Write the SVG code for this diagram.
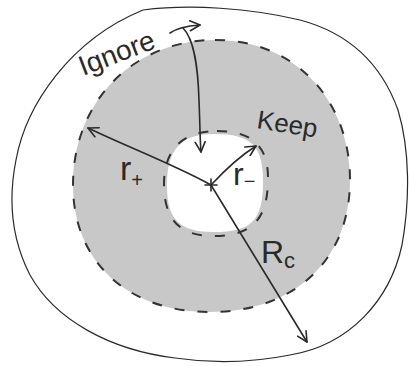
<svg xmlns="http://www.w3.org/2000/svg" width="409" height="366" viewBox="0 0 409 366">
  <style>
    .ink { fill: none; stroke: #2a2a2a; stroke-width: 1.6; stroke-linecap: round; stroke-linejoin: round; }
    .thin { fill: none; stroke: #2a2a2a; stroke-width: 1.2; }
    .dash { fill: none; stroke: #333; stroke-width: 2; stroke-dasharray: 10 13; }
    .lbl { font-family: "Liberation Sans", "DejaVu Sans", sans-serif; fill: #2a2a2a; }
  </style>
  <defs>
    <marker id="ah" viewBox="0 0 12 12" refX="11" refY="6" markerWidth="12" markerHeight="12" markerUnits="userSpaceOnUse" orient="auto">
      <path d="M1,1 L11,6 L1,11" fill="none" stroke="#2a2a2a" stroke-width="1.6" stroke-linecap="round" stroke-linejoin="round"/>
    </marker>
  </defs>
  <rect width="409" height="366" fill="#ffffff"/>

  <g id="outer-boundary">
    <path class="thin" d="M143,10 C190,4 250,8 300,20 C345,32 380,60 398,110 C410,150 410,200 402,245 C390,300 350,345 290,355 C255,362 215,364 175,358 C110,350 55,320 30,275 C12,240 8,200 16,160 C26,105 70,40 143,10 Z"/>
  </g>

  <g id="keep-region">
    <path fill="#c8c8c8" fill-rule="evenodd" d="M215,40 C295,40 350,100 350,180 C350,262 292,312 210,312 C128,312 73,262 73,185 C73,100 135,40 215,40 Z M214,134 C252,134 263,146 263,182 C263,222 250,232 214,232 C180,232 167,220 167,186 C167,150 180,134 214,134 Z"/>
    <path class="dash" d="M215,40 C295,40 350,100 350,180 C350,262 292,312 210,312 C128,312 73,262 73,185 C73,100 135,40 215,40 Z"/>
    <path class="dash" d="M217,131 C252,131 268,146 268,178 C268,220 252,236 213,236 C180,236 164,220 164,184 C164,150 182,131 217,131 Z"/>
    <text class="lbl" x="256" y="128" font-size="26" transform="rotate(9 256 128)">Keep</text>
  </g>

  <g id="ignore-label">
    <text class="lbl" x="83" y="76" font-size="28" transform="rotate(-21 83 76)">Ignore</text>
  </g>

  <g id="center">
    <path class="ink" d="M205,185 L217,185 M211,179 L211,191"/>
  </g>

  <g id="connectors">
    <path class="ink" marker-end="url(#ah)" d="M211,185 C175,165 130,148 88,128"/>
    <path class="ink" marker-end="url(#ah)" d="M211,185 C225,170 240,156 256,146"/>
    <path class="ink" marker-end="url(#ah)" d="M211,185 L307,342"/>
    <path class="ink" marker-end="url(#ah)" d="M170,33 C177,28 186,26 200,25"/>
    <path class="ink" marker-end="url(#ah)" d="M183,28 C195,40 198,70 199,100 C200,125 200,140 201,152"/>
  </g>

  <g id="labels">
    <text class="lbl" x="120" y="180" font-size="34">r<tspan font-size="20" dy="7">+</tspan></text>
    <text class="lbl" x="233" y="185" font-size="32">r<tspan font-size="20" dy="3">−</tspan></text>
    <text class="lbl" x="261" y="263" font-size="32">R<tspan font-size="22" dy="5">c</tspan></text>
  </g>
</svg>
